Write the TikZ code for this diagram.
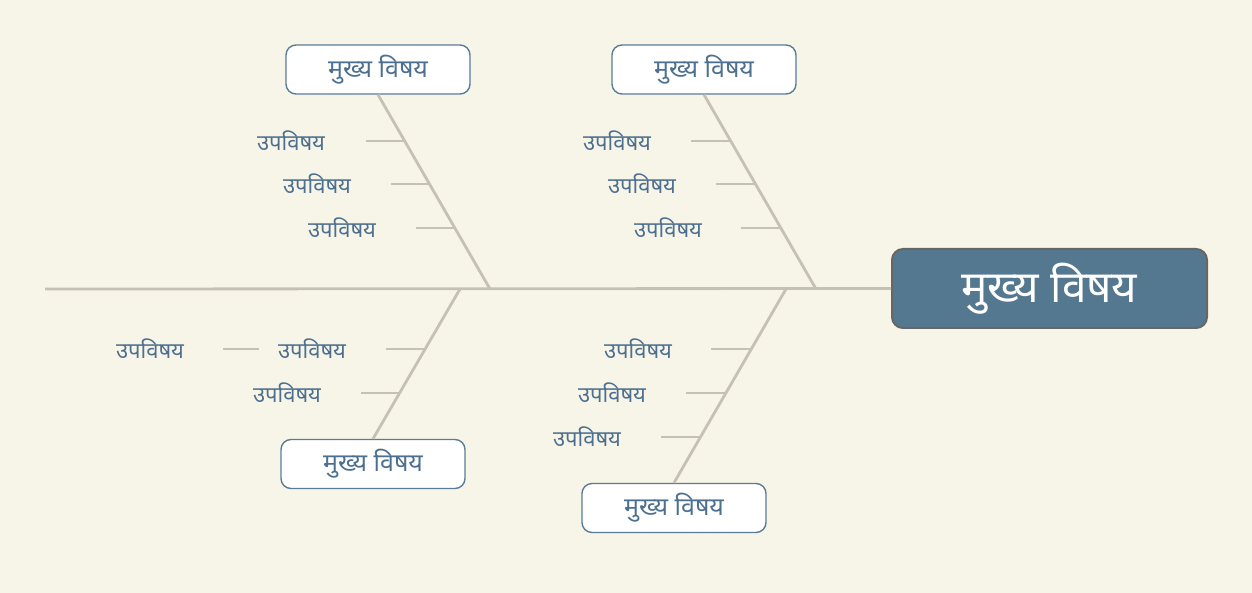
\documentclass[tikz,border=0pt]{standalone}
\usepackage{fontspec}
\newfontfamily\dev[Script=Devanagari]{Noto Sans}
\usetikzlibrary{calc}
\definecolor{bg}{HTML}{F7F5E7}
\definecolor{bone}{HTML}{C5C1B5}
\definecolor{txt}{HTML}{4E7090}
\definecolor{mainfill}{HTML}{557891}
\definecolor{mainborder}{HTML}{666666}
\definecolor{boxborder}{HTML}{5B7C99}
\begin{document}
\begin{tikzpicture}[x=1pt,y=-1pt,
 mainbox/.style={draw=mainborder, line width=2pt, fill=mainfill, rounded corners=11pt, minimum width=315, minimum height=79, text=white, font=\dev\fontsize{44}{48}\selectfont},
 topic/.style={draw=boxborder, line width=1.4pt, fill=white, rounded corners=10pt, minimum width=184, minimum height=49, text=txt, font=\dev\fontsize{25}{28}\selectfont},
 sub/.style={text=txt, font=\dev\fontsize{22}{24}\selectfont, inner sep=0},
 spine/.style={draw=bone, line width=2.8pt},
 ribline/.style={draw=bone, line width=1.4pt}]
\fill[bg] (0,0) rectangle (1252,593);
\useasboundingbox (0,0) rectangle (1252,593);

% main topic and spine
\node[mainbox] (main) at (1049.5,288.5) {मुख्य विषय};
\coordinate (tail) at (45,289);
\draw[spine] (main.west) -- (tail);

% top branch 1
\node[topic] (t1) at (378,69.5) {मुख्य विषय};
\coordinate (f1) at (490,289);
\draw[spine] (t1.south) -- (f1);
\node[sub] (s11) at (291,141) {उपविषय};
\node[sub] (s12) at (317,184) {उपविषय};
\node[sub] (s13) at (342,228) {उपविषय};
\coordinate (a11) at (366,141); \coordinate (b11) at (405,141);
\coordinate (a12) at (391,184); \coordinate (b12) at (430,184);
\coordinate (a13) at (416,228); \coordinate (b13) at (455,228);
\draw[ribline] (a11) -- (b11);
\draw[ribline] (a12) -- (b12);
\draw[ribline] (a13) -- (b13);

% top branch 2
\node[topic] (t2) at (704,69.5) {मुख्य विषय};
\coordinate (f2) at (816,289);
\draw[spine] (t2.south) -- (f2);
\node[sub] (s21) at (617,141) {उपविषय};
\node[sub] (s22) at (642,184) {उपविषय};
\node[sub] (s23) at (668,228) {उपविषय};
\coordinate (a21) at (691,141); \coordinate (b21) at (731,141);
\coordinate (a22) at (716,184); \coordinate (b22) at (756,184);
\coordinate (a23) at (741,228); \coordinate (b23) at (780,228);
\draw[ribline] (a21) -- (b21);
\draw[ribline] (a22) -- (b22);
\draw[ribline] (a23) -- (b23);

% bottom branch 1
\node[topic] (t3) at (373,464) {मुख्य विषय};
\coordinate (f3) at (460,289);
\draw[spine] (t3.north) -- (f3);
\node[sub] (s31) at (312,349) {उपविषय};
\node[sub] (s32) at (287,393) {उपविषय};
\node[sub] (s311) at (150,349) {उपविषय};
\coordinate (a31) at (386,349); \coordinate (b31) at (425,349);
\coordinate (a32) at (361,393); \coordinate (b32) at (400,393);
\coordinate (a311) at (223,349); \coordinate (b311) at (259,349);
\draw[ribline] (a31) -- (b31);
\draw[ribline] (a32) -- (b32);
\draw[ribline] (a311) -- (b311);

% bottom branch 2
\node[topic] (t4) at (674,508) {मुख्य विषय};
\coordinate (f4) at (786,289);
\draw[spine] (t4.north) -- (f4);
\node[sub] (s41) at (638,349) {उपविषय};
\node[sub] (s42) at (612,393) {उपविषय};
\node[sub] (s43) at (587,437) {उपविषय};
\coordinate (a41) at (711,349); \coordinate (b41) at (751,349);
\coordinate (a42) at (686,393); \coordinate (b42) at (726,393);
\coordinate (a43) at (661,437); \coordinate (b43) at (701,437);
\draw[ribline] (a41) -- (b41);
\draw[ribline] (a42) -- (b42);
\draw[ribline] (a43) -- (b43);
\end{tikzpicture}
\end{document}
